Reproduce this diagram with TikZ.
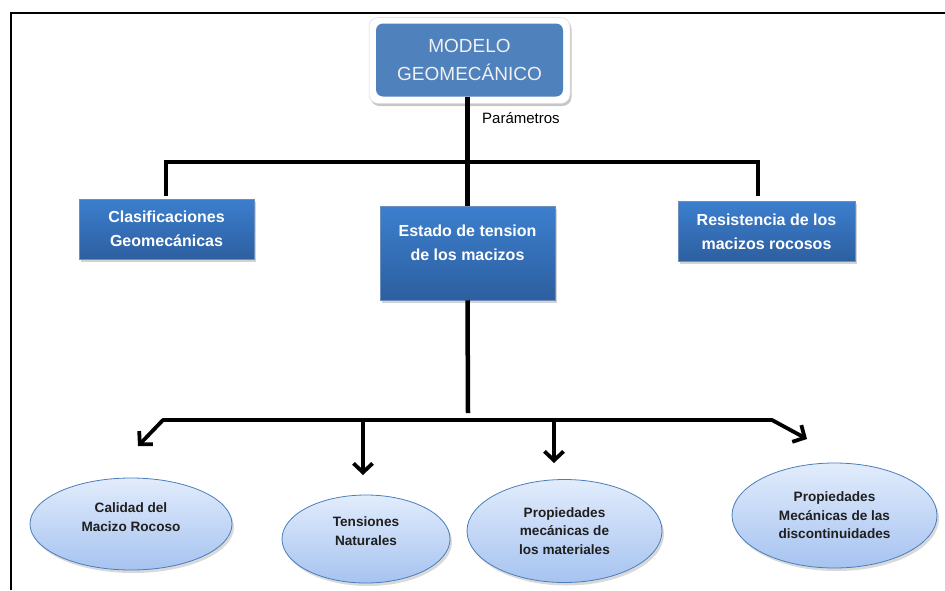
\documentclass[tikz,border=0pt]{standalone}
\usepackage{fontspec}
\setmainfont{Liberation Sans}
\usetikzlibrary{arrows.meta,shapes.geometric,shadows}
\definecolor{topblue}{RGB}{79,129,189}
\definecolor{boxtop}{RGB}{60,127,206}
\definecolor{boxbot}{RGB}{45,95,160}
\definecolor{elltop}{RGB}{226,236,252}
\definecolor{ellbot}{RGB}{166,195,240}
\definecolor{ellline}{RGB}{74,126,187}
\begin{document}
\begin{tikzpicture}[x=1pt,y=-1pt,
  bluebox/.style={rectangle, top color=boxtop, bottom color=boxbot, draw=boxbot!70!white,
    line width=0.5pt, inner sep=0pt,
    drop shadow={shadow xshift=2pt,shadow yshift=-2.5pt,opacity=0.35}},
  boxtext/.style={text=white, font=\fontsize{16}{23.5}\selectfont\bfseries, align=center, inner sep=0pt},
  ell/.style={ellipse, top color=elltop, bottom color=ellbot, draw=ellline, line width=0.8pt,
    inner sep=0pt, drop shadow={shadow xshift=2pt,shadow yshift=-3pt,opacity=0.3}},
  etext/.style={font=\fontsize{13.6}{18.5}\selectfont\bfseries, text=black!88, align=center, inner sep=0pt},
  conn/.style={line width=4.5pt, black},
  lconn/.style={line width=3.8pt, black, line join=round},
  arr/.style={lconn, -{Straight Barb[length=9pt,width=19pt]}},
  arr2/.style={lconn, {Straight Barb[length=9pt,width=19pt]}-{Straight Barb[length=9pt,width=19pt]}},
]
\useasboundingbox (0,0) rectangle (945,590);
% frame
\draw[line width=1.6pt] (11,590) -- (11,13) -- (945,13);

% top box
\node[rectangle, rounded corners=9pt, fill=white, draw=black!15, line width=0.5pt,
      minimum width=201pt, minimum height=86pt,
      drop shadow={shadow xshift=1.5pt,shadow yshift=-2.5pt,opacity=0.45}] (topframe) at (469.5,60.5) {};
\node[rectangle, rounded corners=7pt, fill=topblue, minimum width=187pt, minimum height=73pt,
      text=white!94!black, font=\fontsize{19}{28}\selectfont, align=center, inner sep=0pt]
      (top) at (469.5,60) {MODELO\\GEOMECÁNICO};

% second level boxes
\node[bluebox, minimum width=175pt, minimum height=60pt] (clas) at (166.5,229) {};
\node[boxtext] (clast) at (clas.center) {Clasificaciones\\Geomecánicas};
\node[bluebox, minimum width=175pt, minimum height=94pt] (est) at (467.5,253) {};
\node[boxtext] (estt) at ([yshift=10pt]est.center) {Estado de tension\\de los macizos};
\node[bluebox, minimum width=177pt, minimum height=60pt] (res) at (766.5,231) {};
\node[boxtext] (rest) at ([yshift=-1pt]res.center) {Resistencia de los\\macizos rocosos};

\node[anchor=west, font=\fontsize{15}{18}\selectfont, inner sep=0pt] (par) at (482,118) {Parámetros};

% upper connectors
\coordinate (uL) at (166,196);
\coordinate (uL1) at (166,162);
\coordinate (uR1) at (758,162);
\coordinate (uR) at (758,196);
\draw[conn] (uL) -- (uL1) -- (uR1) -- (uR);
\draw[conn] (est.north |- top.south) -- (est.north);

% ellipses
\node[ell, minimum width=202pt, minimum height=92pt] (e1) at (131,524) {};
\node[etext] (e1t) at ([yshift=7pt]e1.center) {Calidad del\\Macizo Rocoso};
\node[ell, minimum width=168pt, minimum height=88pt] (e2) at (366,539) {};
\node[etext] (e2t) at ([yshift=8pt]e2.center) {Tensiones\\Naturales};
\node[ell, minimum width=195pt, minimum height=103pt] (e3) at (564.5,531) {};
\node[etext] (e3t) at (e3.center) {Propiedades\\mecánicas de\\los materiales};
\node[ell, minimum width=205pt, minimum height=105pt] (e4) at (834.5,515.5) {};
\node[etext] (e4t) at (e4.center) {Propiedades\\Mecánicas de las\\discontinuidades};

% lower connectors
\coordinate (bj) at (468,413);
\draw[conn] (est.south) -- (bj);
\coordinate (a1) at (138,446);
\coordinate (hl) at (163,420);
\coordinate (hr) at (772,420);
\coordinate (a4) at (807,439);
\draw[arr2] (a1) -- (hl) -- (hr) -- (a4);
\coordinate (d2) at (363,420);
\coordinate (a2) at (363,475);
\draw[arr] (d2) -- (a2);
\coordinate (d3) at (554,420);
\coordinate (a3) at (554,463);
\draw[arr] (d3) -- (a3);
\end{tikzpicture}
\end{document}
